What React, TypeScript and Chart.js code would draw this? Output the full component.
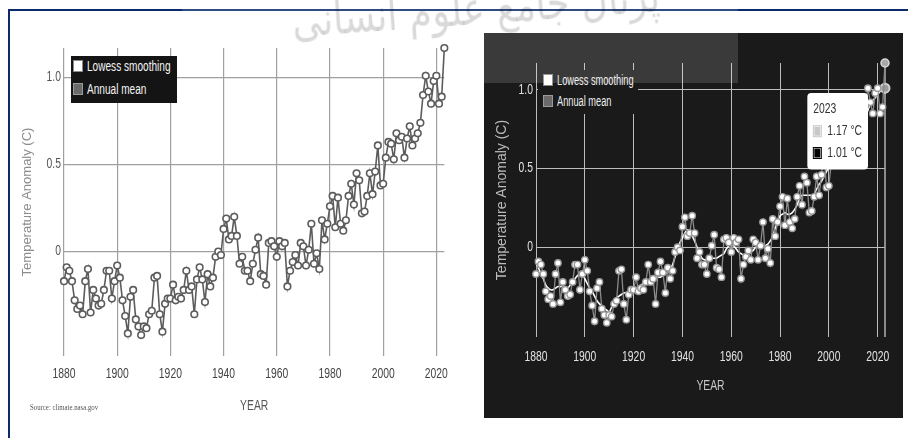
import React, { useEffect, useRef } from "react";
import { Chart, registerables, Tooltip } from "chart.js";

Chart.register(...registerables);

// ---------------- DATA ----------------
const years = [
  1880, 1881, 1882, 1883, 1884, 1885, 1886, 1887, 1888, 1889,
  1890, 1891, 1892, 1893, 1894, 1895, 1896, 1897, 1898, 1899,
  1900, 1901, 1902, 1903, 1904, 1905, 1906, 1907, 1908, 1909,
  1910, 1911, 1912, 1913, 1914, 1915, 1916, 1917, 1918, 1919,
  1920, 1921, 1922, 1923, 1924, 1925, 1926, 1927, 1928, 1929,
  1930, 1931, 1932, 1933, 1934, 1935, 1936, 1937, 1938, 1939,
  1940, 1941, 1942, 1943, 1944, 1945, 1946, 1947, 1948, 1949,
  1950, 1951, 1952, 1953, 1954, 1955, 1956, 1957, 1958, 1959,
  1960, 1961, 1962, 1963, 1964, 1965, 1966, 1967, 1968, 1969,
  1970, 1971, 1972, 1973, 1974, 1975, 1976, 1977, 1978, 1979,
  1980, 1981, 1982, 1983, 1984, 1985, 1986, 1987, 1988, 1989,
  1990, 1991, 1992, 1993, 1994, 1995, 1996, 1997, 1998, 1999,
  2000, 2001, 2002, 2003, 2004, 2005, 2006, 2007, 2008, 2009,
  2010, 2011, 2012, 2013, 2014, 2015, 2016, 2017, 2018, 2019,
  2020, 2021, 2022, 2023,
];

const annualMean = [
  -0.17, -0.09, -0.11, -0.17, -0.28, -0.33, -0.31, -0.36, -0.17, -0.1,
  -0.35, -0.22, -0.27, -0.31, -0.3, -0.22, -0.11, -0.11, -0.27, -0.17,
  -0.08, -0.15, -0.28, -0.37, -0.47, -0.26, -0.22, -0.39, -0.43, -0.48,
  -0.43, -0.44, -0.36, -0.34, -0.15, -0.14, -0.36, -0.46, -0.3, -0.27,
  -0.27, -0.19, -0.28, -0.26, -0.27, -0.22, -0.11, -0.22, -0.2, -0.36,
  -0.16, -0.09, -0.16, -0.29, -0.13, -0.2, -0.15, -0.03, -0.0, -0.02,
  0.13, 0.19, 0.07, 0.09, 0.2, 0.09, -0.07, -0.03, -0.11, -0.11,
  -0.17, -0.07, 0.01, 0.08, -0.13, -0.14, -0.19, 0.05, 0.06, 0.03,
  -0.03, 0.06, 0.03, 0.05, -0.2, -0.11, -0.06, -0.02, -0.08, 0.05,
  0.03, -0.08, 0.01, 0.16, -0.07, -0.01, -0.1, 0.18, 0.07, 0.16,
  0.26, 0.32, 0.14, 0.31, 0.16, 0.12, 0.18, 0.32, 0.39, 0.27,
  0.45, 0.41, 0.22, 0.23, 0.32, 0.45, 0.33, 0.46, 0.61, 0.38,
  0.39, 0.54, 0.63, 0.62, 0.53, 0.68, 0.64, 0.66, 0.54, 0.65,
  0.72, 0.61, 0.65, 0.68, 0.74, 0.9, 1.01, 0.92, 0.85, 0.98,
  1.01, 0.85, 0.89, 1.17,
];

const lowessSmoothing = [
  -0.1, -0.13, -0.17, -0.2, -0.24, -0.26, -0.27, -0.27, -0.26, -0.25,
  -0.25, -0.25, -0.26, -0.26, -0.24, -0.22, -0.2, -0.18, -0.17, -0.17,
  -0.2, -0.23, -0.26, -0.28, -0.31, -0.34, -0.36, -0.37, -0.39, -0.4,
  -0.41, -0.38, -0.35, -0.32, -0.31, -0.3, -0.29, -0.29, -0.29, -0.28,
  -0.27, -0.26, -0.25, -0.24, -0.23, -0.22, -0.21, -0.2, -0.19, -0.19,
  -0.19, -0.19, -0.18, -0.17, -0.16, -0.14, -0.11, -0.06, -0.02, 0.03,
  0.06, 0.09, 0.11, 0.1, 0.07, 0.04, 0.0, -0.04, -0.07, -0.08,
  -0.08, -0.07, -0.07, -0.07, -0.07, -0.06, -0.05, -0.04, -0.01, 0.01,
  0.03, 0.01, -0.01, -0.03, -0.04, -0.05, -0.06, -0.05, -0.03, -0.02,
  0.0, 0.0, 0.0, 0.0, 0.01, 0.02, 0.04, 0.07, 0.12, 0.16,
  0.2, 0.21, 0.22, 0.21, 0.21, 0.22, 0.24, 0.27, 0.31, 0.33,
  0.33, 0.33, 0.33, 0.33, 0.34, 0.37, 0.4, 0.42, 0.45, 0.48,
  0.51, 0.53, 0.55, 0.58, 0.61, 0.62, 0.63, 0.64, 0.64, 0.65,
  0.66, 0.68, 0.7, 0.74, 0.79, 0.83, 0.87, 0.91, 0.93, 0.95,
  0.97, 0.99, 1.0, 1.01,
];

const xTickValues = [1880, 1900, 1920, 1940, 1960, 1980, 2000, 2020];
const yTickValues = [0, 0.5, 1.0];
const yTickLabels = ["0", "0.5", "1.0"];
const hoverYear = 2023;

const legendLabels = ["Lowess smoothing", "Annual mean"];
const xTitle = "YEAR";
const yTitle = "Temperature Anomaly (C)";
const sourceText = "Source: climate.nasa.gov";
const watermarkText = "پرتال جامع علوم انسانی";

// ---------------- STYLE ----------------
const SANS = "'Liberation Sans', Arial, sans-serif";
const CONDENSE = 0.74;

const toPoints = (vals: number[]) => vals.map((v, i) => ({ x: years[i], y: v }));
const yLabel = (v: any) => {
  const i = yTickValues.findIndex((t) => Math.abs(t - Number(v)) < 1e-9);
  return i >= 0 ? yTickLabels[i] : "";
};

// Horizontally condense every non-rotated text the chart draws (narrow-face look)
function condenseContext(canvas: HTMLCanvasElement, f: number) {
  const ctx: any = canvas.getContext("2d");
  if (!ctx || ctx.__condensed) return;
  ctx.__condensed = true;
  const fill = ctx.fillText.bind(ctx);
  const measure = ctx.measureText.bind(ctx);
  const isRotated = () => {
    const t = ctx.getTransform();
    return Math.abs(t.b) > 1e-6 || Math.abs(t.c) > 1e-6;
  };
  ctx.fillText = (text: string, x: number, y: number, maxWidth?: number) => {
    if (isRotated()) {
      if (maxWidth === undefined) fill(text, x, y);
      else fill(text, x, y, maxWidth);
      return;
    }
    ctx.save();
    ctx.translate(x, y);
    ctx.scale(f, 1);
    if (maxWidth === undefined) fill(text, 0, 0);
    else fill(text, 0, 0, maxWidth / f);
    ctx.restore();
  };
  ctx.measureText = (text: string) => {
    const m = measure(text);
    return {
      width: m.width * f,
      actualBoundingBoxAscent: m.actualBoundingBoxAscent,
      actualBoundingBoxDescent: m.actualBoundingBoxDescent,
      actualBoundingBoxLeft: m.actualBoundingBoxLeft * f,
      actualBoundingBoxRight: m.actualBoundingBoxRight * f,
      fontBoundingBoxAscent: m.fontBoundingBoxAscent,
      fontBoundingBoxDescent: m.fontBoundingBoxDescent,
    };
  };
}

(Tooltip as any).positioners.leftOfPoint = function (elements: any[]) {
  if (!elements.length) return false;
  const el = elements[elements.length - 1].element;
  return { x: el.x - 17, y: el.y + 43, xAlign: "right", yAlign: "center" };
};

const hoverLinePlugin = {
  id: "hoverLine",
  beforeDatasetsDraw(chart: any) {
    const act = chart.tooltip?.getActiveElements?.() || [];
    if (!act.length) return;
    const x = act[0].element.x;
    const ctx = chart.ctx;
    const y0 = Math.min(...act.map((a: any) => a.element.y));
    ctx.save();
    ctx.strokeStyle = "#b0b0b0";
    ctx.lineWidth = 1.5;
    ctx.beginPath();
    ctx.moveTo(x, y0);
    ctx.lineTo(x, chart.chartArea.bottom);
    ctx.stroke();
    ctx.restore();
  },
};

function LeftChart() {
  const ref = useRef<HTMLCanvasElement | null>(null);
  useEffect(() => {
    if (!ref.current) return;
    condenseContext(ref.current, CONDENSE);
    const chart = new Chart(ref.current, {
      type: "line",
      data: {
        datasets: [
          {
            label: legendLabels[1],
            data: toPoints(annualMean),
            borderColor: "#5c5c5c",
            borderWidth: 1.6,
            pointRadius: 3.3,
            pointBackgroundColor: "#ffffff",
            pointBorderColor: "#5c5c5c",
            pointBorderWidth: 1.6,
            tension: 0,
            clip: false as any,
          },
        ],
      },
      options: {
        animation: false,
        responsive: true,
        maintainAspectRatio: false,
        events: [],
        layout: { padding: { top: 18, right: 6, left: 0, bottom: 0 } },
        plugins: { legend: { display: false }, tooltip: { enabled: false } },
        scales: {
          x: {
            type: "linear",
            min: 1880,
            max: 2023,
            afterBuildTicks: (s: any) => {
              s.ticks = xTickValues.map((v) => ({ value: v }));
            },
            afterFit: (s: any) => {
              s.height = 74;
            },
            grid: { color: "#a0a0a0", lineWidth: 1.2, drawTicks: false },
            border: { display: false },
            ticks: {
              color: "#444",
              font: { family: SANS, size: 14 },
              padding: 10,
              maxRotation: 0,
              autoSkip: false,
              callback: (v: any) => String(v),
            },
            title: {
              display: true,
              text: xTitle,
              color: "#555",
              font: { family: SANS, size: 14 },
              padding: { top: 0, bottom: 15 },
            },
          },
          y: {
            min: -0.6,
            max: 1.17,
            afterBuildTicks: (s: any) => {
              s.ticks = yTickValues.map((v) => ({ value: v }));
            },
            afterFit: (s: any) => {
              s.width = 52;
            },
            grid: { color: "#a0a0a0", lineWidth: 1.2, drawTicks: false },
            border: { display: false },
            ticks: {
              color: "#555",
              font: { family: SANS, size: 14 },
              padding: 3,
              callback: yLabel,
            },
            title: {
              display: true,
              text: yTitle,
              color: "#8c8c8c",
              font: { family: SANS, size: 13 },
              padding: { top: 8, bottom: 0 },
            },
          },
        },
      } as any,
    });
    return () => chart.destroy();
  }, []);
  return <canvas ref={ref} />;
}

function RightChart() {
  const ref = useRef<HTMLCanvasElement | null>(null);
  useEffect(() => {
    if (!ref.current) return;
    condenseContext(ref.current, CONDENSE);
    const chart = new Chart(ref.current, {
      type: "line",
      data: {
        datasets: [
          {
            label: legendLabels[1],
            data: toPoints(annualMean),
            borderColor: "#8a8a8a",
            borderWidth: 1.3,
            pointRadius: 3.2,
            pointBackgroundColor: "#ffffff",
            pointBorderColor: "#9a9a9a",
            pointBorderWidth: 1.4,
            pointHoverRadius: 4,
            pointHoverBackgroundColor: "#a8a8a8",
            pointHoverBorderColor: "#d8d8d8",
            pointHoverBorderWidth: 1.5,
            tension: 0,
            clip: false as any,
          },
          {
            label: legendLabels[0],
            data: toPoints(lowessSmoothing),
            borderColor: "#ffffff",
            borderWidth: 1.6,
            pointRadius: 0,
            pointHoverRadius: 4.5,
            pointHoverBackgroundColor: "#9a9a9a",
            pointHoverBorderColor: "#d0d0d0",
            pointHoverBorderWidth: 2,
            tension: 0.3,
            clip: false as any,
          },
        ],
      },
      options: {
        animation: false,
        responsive: true,
        maintainAspectRatio: false,
        events: [],
        layout: { padding: { top: 30, right: 18, left: 0, bottom: 0 } },
        plugins: {
          legend: { display: false },
          tooltip: {
            enabled: true,
            position: "leftOfPoint",
            backgroundColor: "#ffffff",
            titleColor: "#333",
            bodyColor: "#333",
            titleFont: { family: SANS, size: 14, weight: "normal" },
            bodyFont: { family: SANS, size: 14 },
            padding: { top: 8, bottom: 8, left: 6, right: 6 },
            caretSize: 0,
            caretPadding: 0,
            cornerRadius: 4,
            displayColors: true,
            boxWidth: 8,
            boxHeight: 11,
            boxPadding: 4,
            bodySpacing: 5,
            titleMarginBottom: 5,
            callbacks: {
              title: (items: any[]) => String(items[0].raw.x),
              label: (item: any) => `${item.parsed.y.toFixed(2)} °C`,
              labelColor: (item: any) =>
                item.datasetIndex === 0
                  ? { borderColor: "#c8c8c8", backgroundColor: "#c8c8c8", borderWidth: 0 }
                  : { borderColor: "#000000", backgroundColor: "#000000", borderWidth: 0 },
            },
          },
        },
        scales: {
          x: {
            type: "linear",
            min: 1880,
            max: 2023,
            afterBuildTicks: (s: any) => {
              s.ticks = xTickValues.map((v) => ({ value: v }));
            },
            afterFit: (s: any) => {
              s.height = 81;
            },
            grid: { color: "#bdbdbd", lineWidth: 1, drawTicks: false },
            border: { display: false },
            ticks: {
              color: "#e2e2e2",
              font: { family: SANS, size: 14 },
              padding: 12,
              maxRotation: 0,
              autoSkip: false,
              callback: (v: any) => String(v),
            },
            title: {
              display: true,
              text: xTitle,
              color: "#c8c8c8",
              font: { family: SANS, size: 14 },
              padding: { top: 0, bottom: 23 },
            },
          },
          y: {
            min: -0.57,
            max: 1.17,
            afterBuildTicks: (s: any) => {
              s.ticks = yTickValues.map((v) => ({ value: v }));
            },
            afterFit: (s: any) => {
              s.width = 52;
            },
            grid: { color: "#bdbdbd", lineWidth: 1, drawTicks: false },
            border: { display: false },
            ticks: {
              color: "#e2e2e2",
              font: { family: SANS, size: 14 },
              padding: 3,
              callback: yLabel,
            },
            title: {
              display: true,
              text: yTitle,
              color: "#bbbbbb",
              font: { family: SANS, size: 14 },
              padding: { top: 10, bottom: 0 },
            },
          },
        },
      } as any,
      plugins: [hoverLinePlugin],
    });
    const idx = years.indexOf(hoverYear);
    const active = [
      { datasetIndex: 0, index: idx },
      { datasetIndex: 1, index: idx },
    ];
    chart.setActiveElements(active);
    chart.tooltip?.setActiveElements(active, { x: 0, y: 0 });
    chart.update();
    return () => chart.destroy();
  }, []);
  return <canvas ref={ref} />;
}

function Legend(props: {
  left: number;
  top: number;
  width: number;
  height: number;
  bg: string;
  color: string;
  rowTops: number[];
  swatchLeft: number;
  fontSize: number;
  squeeze: number;
}) {
  const swatches = [
    { fill: "#ffffff", border: "#8a8a8a" },
    { fill: "#6a6a6a", border: "#9a9a9a" },
  ];
  return (
    <div
      style={{
        position: "absolute",
        left: props.left,
        top: props.top,
        width: props.width,
        height: props.height,
        background: props.bg,
      }}
    >
      {legendLabels.map((label, i) => (
        <div key={label}>
          <div
            style={{
              position: "absolute",
              left: props.swatchLeft,
              top: props.rowTops[i] - 6,
              width: 8,
              height: 10,
              background: swatches[i].fill,
              border: `1.5px solid ${swatches[i].border}`,
            }}
          />
          <div
            style={{
              position: "absolute",
              left: props.swatchLeft + 14,
              top: props.rowTops[i] - 9,
              height: 18,
              lineHeight: "18px",
              fontFamily: SANS,
              fontSize: props.fontSize,
              color: props.color,
              whiteSpace: "nowrap",
              transform: `scaleX(${props.squeeze})`,
              transformOrigin: "left center",
            }}
          >
            {label}
          </div>
        </div>
      ))}
    </div>
  );
}

export default function App() {
  return (
    <div
      style={{
        position: "fixed",
        left: 0,
        top: 0,
        width: 908,
        height: 438,
        background: "#ffffff",
        overflow: "hidden",
      }}
    >
      {/* frame */}
      <div style={{ position: "absolute", left: 8, top: 9, width: 174, height: 2, background: "#0c2a6c" }} />
      <div style={{ position: "absolute", left: 182, top: 9, width: 556, height: 2, background: "#2e4c82" }} />
      <div style={{ position: "absolute", left: 738, top: 9, width: 170, height: 2, background: "#0c2a6c" }} />
      <div style={{ position: "absolute", left: 8, top: 9, width: 2, height: 429, background: "#0c2a6c" }} />

      {/* left chart */}
      <div style={{ position: "absolute", left: 12, top: 30, width: 446, height: 400 }}>
        <LeftChart />
      </div>
      <Legend
        left={71}
        top={56}
        width={106}
        height={47}
        bg="#141414"
        color="#f4f4f4"
        rowTops={[10, 33]}
        swatchLeft={2}
        fontSize={14}
        squeeze={0.72}
      />
      <div
        style={{
          position: "absolute",
          left: 30,
          top: 403,
          fontFamily: "'Liberation Serif', 'Times New Roman', serif",
          fontSize: 8,
          color: "#555",
          whiteSpace: "nowrap",
          transform: "scaleX(0.85)",
          transformOrigin: "left center",
        }}
      >
        {sourceText}
      </div>

      {/* right chart */}
      <div style={{ position: "absolute", left: 484, top: 33, width: 419, height: 385, background: "#1a1a1a" }}>
        <RightChart />
      </div>
      <Legend
        left={538}
        top={70}
        width={100}
        height={44}
        bg="#1a1a1a"
        color="#eeeeee"
        rowTops={[10, 31]}
        swatchLeft={5}
        fontSize={14}
        squeeze={0.66}
      />
      <div
        style={{
          position: "absolute",
          left: 484,
          top: 33,
          width: 254,
          height: 50,
          background: "rgba(255,255,255,0.14)",
          pointerEvents: "none",
        }}
      />

      {/* watermark */}
      <div
        style={{
          position: "absolute",
          left: 292,
          top: -6,
          fontFamily: "'DejaVu Sans', sans-serif",
          fontSize: 46,
          color: "rgba(0,0,0,0.15)",
          direction: "rtl",
          whiteSpace: "nowrap",
          transform: "rotate(-4deg) scaleX(0.8)",
          transformOrigin: "left center",
          pointerEvents: "none",
        }}
      >
        {watermarkText}
      </div>
    </div>
  );
}
